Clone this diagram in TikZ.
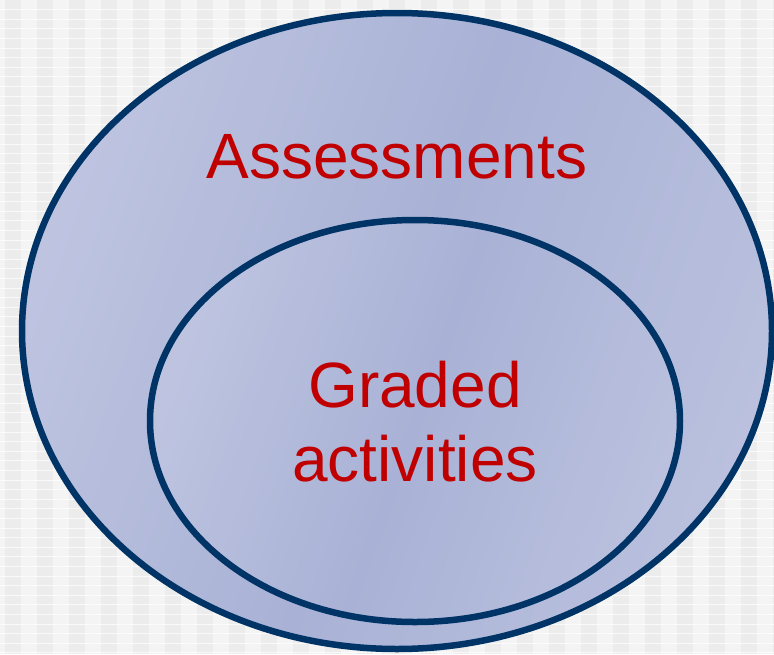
\documentclass[tikz,border=0pt]{standalone}
\usepackage{fontspec}
\setmainfont{Liberation Sans}
\usetikzlibrary{shapes.geometric}
\definecolor{bgbase}{HTML}{F4F4F4}
\definecolor{bgband}{HTML}{ECECEC}
\definecolor{navy}{HTML}{003366}
\definecolor{lav1}{HTML}{BEC4E0}
\definecolor{lav2}{HTML}{A9B2D6}
\definecolor{txtred}{HTML}{C00000}
\tikzset{
  setring/.style={draw=navy, line width=6.5pt, left color=lav1, right color=lav1!80!lav2, middle color=lav2, shading angle=70},
  setlabel/.style={text=txtred, font=\fontsize{64}{74}\selectfont, align=center, inner sep=0pt}
}
\begin{document}
\begin{tikzpicture}[x=1pt,y=-1pt]
\useasboundingbox (0,0) rectangle (774,654);
% background
\fill[bgbase] (0,0) rectangle (774,654);
\foreach \i in {0,...,24} {
  \fill[bgband] (5+32*\i,0) rectangle (21+32*\i,654);
}
\foreach \j in {1,...,68} {
  \draw[white, line width=1pt, opacity=0.7] (0,9.6*\j) -- (774,9.6*\j);
}
% sets
\node[setring, ellipse, minimum width=750pt, minimum height=636pt, inner sep=0pt] (outer) at (397,331) {};
\node[setring, ellipse, minimum width=530pt, minimum height=402pt, inner sep=0pt] (inner) at (415,421) {};
\node[setlabel, anchor=base] (assess) at (397,178) {Assessments};
\node[setlabel] (graded) at (415,421.5) {Graded\\activities};
\end{tikzpicture}
\end{document}
